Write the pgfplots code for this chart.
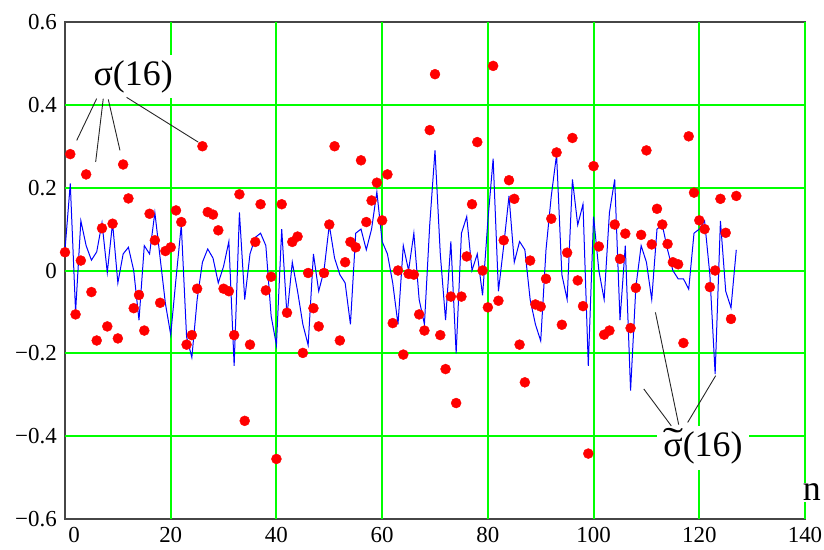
\documentclass[border=0pt]{standalone}
\usepackage{fontspec}
\setmainfont{Liberation Serif}
\usepackage{graphicx}
\usepackage{pgfplots}
\pgfplotsset{compat=1.18}
\usepackage{pgfplotstable}

\definecolor{gridgreen}{RGB}{0,255,0}
\definecolor{axisgray}{RGB}{70,70,70}

% n, sigma(16) (red dots), estimate (blue line)
\pgfplotstableread{
n s t
0 0.044 0.05
1 0.281 0.21
2 -0.106 -0.10
3 0.024 0.12
4 0.232 0.06
5 -0.052 0.025
6 -0.169 0.045
7 0.102 0.115
8 -0.135 -0.005
9 0.113 0.115
10 -0.164 -0.03
11 0.256 0.04
12 0.174 0.056
13 -0.091 0.00
14 -0.059 -0.12
15 -0.145 0.06
16 0.137 0.04
17 0.073 0.14
18 -0.078 0.03
19 0.047 -0.08
20 0.056 -0.155
21 0.145 -0.02
22 0.117 0.11
23 -0.179 -0.16
24 -0.156 -0.21
25 -0.044 -0.07
26 0.300 0.02
27 0.141 0.052
28 0.135 0.03
29 0.097 -0.03
30 -0.044 0.01
31 -0.050 0.07
32 -0.156 -0.23
33 0.184 0.14
34 -0.363 -0.07
35 -0.179 0.04
36 0.069 0.08
37 0.160 0.09
38 -0.048 0.06
39 -0.015 -0.11
40 -0.455 -0.18
41 0.160 0.10
42 -0.102 -0.11
43 0.069 0.02
44 0.082 -0.05
45 -0.199 -0.13
46 -0.006 -0.18
47 -0.091 0.04
48 -0.135 -0.05
49 -0.006 0.00
50 0.111 0.11
51 0.300 0.03
52 -0.169 -0.01
53 0.020 -0.03
54 0.069 -0.13
55 0.056 0.09
56 0.266 0.10
57 0.117 0.05
58 0.169 0.10
59 0.212 0.19
60 0.121 0.07
61 0.232 0.04
62 -0.127 -0.03
63 0.000 -0.13
64 -0.203 0.06
65 -0.008 0.00
66 -0.010 0.09
67 -0.106 -0.07
68 -0.145 -0.13
69 0.339 0.11
70 0.474 0.29
71 -0.156 0.04
72 -0.238 -0.12
73 -0.063 0.07
74 -0.320 -0.20
75 -0.063 0.09
76 0.034 0.13
77 0.160 0.00
78 0.310 0.04
79 0.000 -0.06
80 -0.089 0.12
81 0.494 0.27
82 -0.073 -0.05
83 0.073 0.06
84 0.218 0.18
85 0.173 0.02
86 -0.179 0.07
87 -0.270 0.05
88 0.024 -0.07
89 -0.082 -0.13
90 -0.087 -0.17
91 -0.020 0.05
92 0.125 0.18
93 0.285 0.28
94 -0.131 -0.01
95 0.043 -0.07
96 0.320 0.22
97 -0.024 0.11
98 -0.086 0.16
99 -0.442 -0.23
100 0.252 0.13
101 0.058 0.00
102 -0.155 -0.07
103 -0.145 0.14
104 0.111 0.22
105 0.028 -0.12
106 0.089 0.06
107 -0.139 -0.29
108 -0.042 -0.04
109 0.086 0.06
110 0.290 0.02
111 0.063 -0.07
112 0.149 0.10
113 0.111 0.11
114 0.064 0.05
115 0.020 0.00
116 0.015 -0.02
117 -0.175 -0.02
118 0.324 -0.045
119 0.188 0.09
120 0.121 0.10
121 0.100 0.12
122 -0.040 -0.01
123 0.000 -0.25
124 0.173 0.12
125 0.091 -0.05
126 -0.117 -0.09
127 0.180 0.05
}\sigmadata

\begin{document}
\begin{tikzpicture}
\begin{axis}[
  scale only axis,
  width=740bp, height=497bp,
  xmin=0, xmax=140, ymin=-0.6, ymax=0.6,
  xtick={0,20,40,60,80,100,120,140},
  xticklabels={\hspace*{18bp}0,20,40,60,80,100,120,140},
  ytick={-0.6,-0.4,-0.2,0,0.2,0.4,0.6},
  yticklabels={−0.6,−0.4,−0.2,0,0.2,0.4,0.6},
  axis line style={axisgray, line width=1.5bp},
  major tick length=0pt,
  ticklabel style={font=\fontsize{23}{23}\selectfont, text=black},
  xticklabel style={anchor=north, inner sep=0pt, yshift=-8bp},
  yticklabel style={anchor=east, inner sep=0pt, xshift=-8bp},
  clip=false,
]
% green grid
\pgfplotsinvokeforeach{20,40,60,80,100,120,140}{
  \draw[gridgreen, line width=2bp] (axis cs:#1,-0.6) -- (axis cs:#1,0.6);
}
\pgfplotsinvokeforeach{-0.4,-0.2,0,0.2,0.4}{
  \draw[gridgreen, line width=2bp] (axis cs:0,#1) -- (axis cs:140,#1);
}

\addplot[blue, line width=1bp] table[x=n, y=t] {\sigmadata};
\addplot[red, only marks, mark=*, mark size=5bp]
  table[x=n, y=s] {\sigmadata};

% labels with white boxes over the grid
\node[fill=white, inner xsep=7bp, inner ysep=5bp, font=\fontsize{36}{36}\selectfont]
  at (axis cs:12.9,0.468) {σ(16)};
\node[fill=white, inner xsep=6bp, inner ysep=6bp, font=\fontsize{36}{36}\selectfont]
  at (axis cs:120.7,-0.428)
  {\ooalign{σ\cr\hidewidth\raisebox{0.12em}{\scalebox{1.7}[1]{˜}}\hidewidth\cr}(16)};
\node[fill=white, inner sep=1bp, font=\fontsize{36}{36}\selectfont]
  at (axis cs:141.3,-0.535) {n};

% leader lines
\draw[black!85, line width=0.9bp] (axis cs:5.99,0.415) -- (axis cs:2.21,0.314);
\draw[black!85, line width=0.9bp] (axis cs:7.24,0.415) -- (axis cs:5.80,0.262);
\draw[black!85, line width=0.9bp] (axis cs:8.19,0.413) -- (axis cs:10.40,0.290);
\draw[black!85, line width=0.9bp] (axis cs:11.66,0.418) -- (axis cs:25.20,0.310);
\draw[black!85, line width=0.9bp] (axis cs:114.7,-0.375) -- (axis cs:109.5,-0.286);
\draw[black!85, line width=0.9bp] (axis cs:116.1,-0.372) -- (axis cs:111.7,-0.101);
\draw[black!85, line width=0.9bp] (axis cs:117.8,-0.367) -- (axis cs:123.1,-0.254);

\coordinate (sw) at (rel axis cs:0,0);
\coordinate (ne) at (rel axis cs:1,1);
\end{axis}
\path ([shift={(-65bp,-30bp)}]sw) rectangle ([shift={(19bp,22bp)}]ne);
\end{tikzpicture}
\end{document}
